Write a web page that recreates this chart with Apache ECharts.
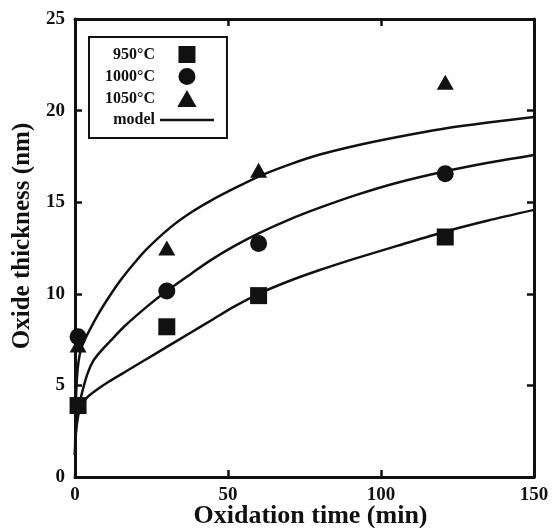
<!DOCTYPE html>
<html>
<head>
<meta charset="utf-8">
<script src="https://cdn.jsdelivr.net/npm/echarts@6/dist/echarts.min.js"></script>
<style>
  html, body { margin: 0; padding: 0; background: #fff; }
  #chart { width: 553px; height: 528px; }
</style>
</head>
<body>
<div id="chart"></div>
<script>
// measured oxide thickness (nm) vs time (min)
const pts950 = [[1, 3.9], [30, 8.2], [60, 9.9], [121, 13.1]];
const pts1000 = [[1, 7.65], [30, 10.15], [60, 12.75], [121, 16.55]];
const pts1050 = [[1, 7.2], [30, 12.5], [60, 16.75], [121, 21.55]];

// model curves
const t950 = [0, 0.3, 1, 2, 4, 7, 11, 17, 23, 30, 38, 45, 52, 60, 70, 80, 92, 105, 120, 135, 150];
const y950 = [1.2, 2.4, 3.3, 3.9, 4.35, 4.75, 5.2, 5.8, 6.4, 7.1, 7.9, 8.6, 9.3, 10.0, 10.7, 11.3, 11.95, 12.6, 13.35, 14.0, 14.58];

const t1000 = [0, 0.3, 1, 2, 4, 6, 8.6, 12, 16, 23.5, 30, 38, 44, 52, 60, 70, 80, 92, 105, 120, 135, 150];
const y1000 = [1.2, 2.6, 3.6, 4.4, 5.6, 6.35, 6.9, 7.5, 8.2, 9.3, 10.15, 11.1, 11.8, 12.6, 13.3, 14.05, 14.7, 15.4, 16.05, 16.65, 17.15, 17.58];

const t1050 = [0, 0.2, 0.5, 1, 2, 3.5, 5.5, 8, 11, 14.7, 19, 23.5, 31, 38, 44, 52, 60, 70, 80, 92, 105, 120, 135, 150];
const y1050 = [1.2, 3.5, 5.0, 6.1, 7.0, 7.6, 8.25, 9.0, 9.8, 10.7, 11.6, 12.45, 13.6, 14.45, 15.05, 15.75, 16.4, 17.05, 17.6, 18.1, 18.55, 19.0, 19.35, 19.65];

const xTicks = [0, 50, 100, 150];
const yTicks = [0, 5, 10, 15, 20, 25];

const FONT = '"Liberation Serif", "Times New Roman", serif';

function pairs(t, y) {
  return t.map((v, i) => [v, y[i]]);
}

const chart = echarts.init(document.getElementById('chart'), null, { renderer: 'canvas' });

const axisCommon = {
  axisLine: { show: true, onZero: false, lineStyle: { color: '#111', width: 3 } },
  axisTick: { show: true, inside: true, length: 7, lineStyle: { color: '#111', width: 2.5 } },
  splitLine: { show: false }
};

function modelLine(t, y) {
  return {
    name: 'model',
    type: 'line',
    data: pairs(t, y),
    symbol: 'none',
    smooth: 0.25,
    lineStyle: { color: '#111', width: 2.5 },
    itemStyle: { color: '#111' },
    z: 2
  };
}

function scatter(name, data, symbol, size) {
  return {
    name: name,
    type: 'scatter',
    data: data,
    symbol: symbol,
    symbolSize: size,
    itemStyle: { color: '#111', opacity: 1 },
    z: 3
  };
}

const option = {
  animation: false,
  backgroundColor: '#fff',
  textStyle: { fontFamily: FONT },
  grid: { left: 75, right: 19, top: 19, bottom: 51, outerBoundsMode: 'none', containLabel: false },
  legend: {
    orient: 'vertical',
    left: 89,
    top: 37,
    align: 'right',
    itemWidth: 54,
    itemHeight: 17,
    itemGap: 5,
    padding: [9, 13, 10, 16],
    borderColor: '#111',
    borderWidth: 2,
    symbolKeepAspect: true,
    data: [
      { name: '950°C', icon: 'path://M0,0h1v1h-1z' },
      { name: '1000°C', icon: 'path://M0,0.5a0.5,0.5 0 1,0 1,0a0.5,0.5 0 1,0 -1,0z' },
      { name: '1050°C', icon: 'path://M0.5,0L1,0.88H0z' },
      { name: 'model', icon: 'path://M0,0h54v2.5h-54z' }
    ],
    textStyle: {
      fontFamily: FONT,
      fontWeight: 'bold',
      fontSize: 16,
      color: '#111',
      width: 54,
      overflow: 'none'
    }
  },
  xAxis: [
    Object.assign({
      type: 'value',
      min: 0, max: 150, interval: 50,
      position: 'bottom',
      name: 'Oxidation time (min)',
      nameLocation: 'middle',
      nameGap: 26,
      nameMoveOverlap: false,
      nameTextStyle: { fontFamily: FONT, fontWeight: 'bold', fontSize: 26, color: '#111', padding: [0, 0, 0, 12] },
      axisLabel: {
        margin: 9, fontFamily: FONT, fontWeight: 'bold', fontSize: 19, color: '#111',
        formatter: v => (xTicks.indexOf(v) >= 0 ? String(v) : '')
      }
    }, axisCommon),
    Object.assign({
      type: 'value',
      min: 0, max: 150, interval: 50,
      position: 'top',
      axisLabel: { show: false }
    }, axisCommon)
  ],
  yAxis: [
    Object.assign({
      type: 'value',
      min: 0, max: 25, interval: 5,
      position: 'left',
      name: 'Oxide thickness (nm)',
      nameLocation: 'middle',
      nameGap: 40,
      nameMoveOverlap: false,
      nameTextStyle: { fontFamily: FONT, fontWeight: 'bold', fontSize: 25, color: '#111', padding: [0, 0, 0, 24] },
      axisLabel: {
        margin: 10, fontFamily: FONT, fontWeight: 'bold', fontSize: 19, color: '#111',
        formatter: v => (yTicks.indexOf(v) >= 0 ? String(v) : '')
      }
    }, axisCommon),
    Object.assign({
      type: 'value',
      min: 0, max: 25, interval: 5,
      position: 'right',
      axisLabel: { show: false }
    }, axisCommon)
  ],
  series: [
    scatter('950°C', pts950, 'rect', 17),
    scatter('1000°C', pts1000, 'circle', 17),
    scatter('1050°C', pts1050, 'triangle', [17, 15]),
    modelLine(t950, y950),
    modelLine(t1000, y1000),
    modelLine(t1050, y1050)
  ]
};

chart.setOption(option);
</script>
</body>
</html>
